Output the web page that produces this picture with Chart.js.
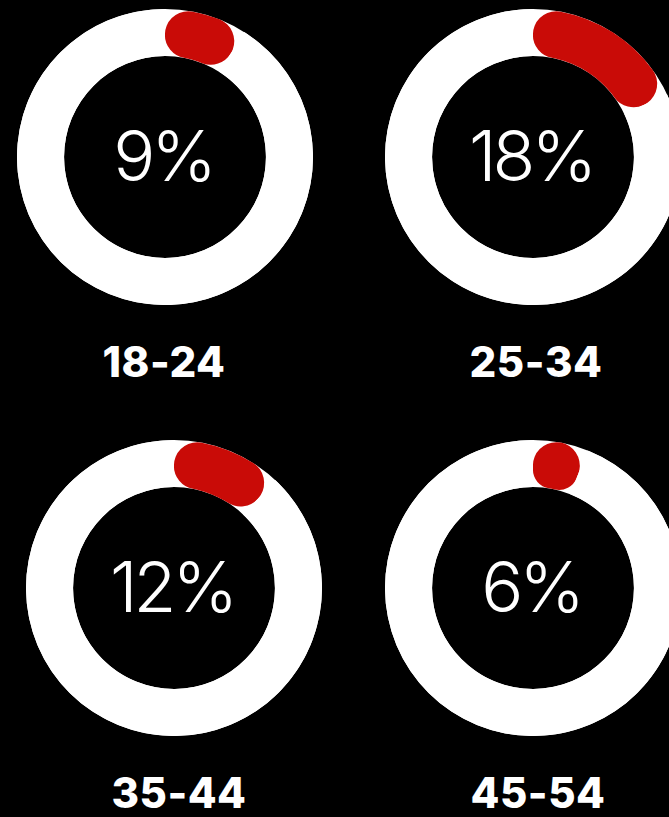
<!DOCTYPE html>
<html>
<head>
<meta charset="utf-8">
<script src="https://cdn.jsdelivr.net/npm/chart.js@4"></script>
<style>
    html, body { margin: 0; padding: 0; background: #000; }
    #page { position: relative; width: 669px; height: 817px; overflow: hidden; background: #000; }
    .cell { position: absolute; width: 296px; height: 296px; }
    .label {
        position: absolute; width: 240px; text-align: center;
        color: #fff; font-family: "Inter", "Open Sans", sans-serif; font-weight: 800;
        font-size: 42px; line-height: 42px; letter-spacing: 0.5px;
    }
</style>
</head>
<body>
<div id="page">
    <div class="cell" style="left:17px;top:9px"><canvas id="donut0" width="296" height="296"></canvas></div>
    <div class="cell" style="left:385px;top:9px"><canvas id="donut1" width="296" height="296"></canvas></div>
    <div class="cell" style="left:26px;top:440px"><canvas id="donut2" width="296" height="296"></canvas></div>
    <div class="cell" style="left:385px;top:440px"><canvas id="donut3" width="296" height="296"></canvas></div>

    <div class="label" id="label0" style="left:44px;top:341px"></div>
    <div class="label" id="label1" style="left:416px;top:341px"></div>
    <div class="label" id="label2" style="left:59px;top:772px"></div>
    <div class="label" id="label3" style="left:418px;top:772px"></div>
</div>

<script>
// age groups and the share of each one
const ageGroups = ['18-24', '25-34', '35-44', '45-54'];
const shares = [9, 18, 12, 6];

const red = '#c90b07';
const white = '#ffffff';

/*
    draws the full white ring under the arcs so the rounded ends of the red part sit on white
    and writes the percent in the middle
*/
const ringPlugin = {
    id: 'ring',
    beforeDatasetsDraw(chart) {
        let arc = chart.getDatasetMeta(0).data[0];
        if (!arc) return;
        let ctx = chart.ctx;
        ctx.save();
        ctx.beginPath();
        ctx.arc(arc.x, arc.y, arc.outerRadius, 0, Math.PI * 2);
        ctx.arc(arc.x, arc.y, arc.innerRadius, 0, Math.PI * 2, true);
        ctx.fillStyle = white;
        ctx.fill('evenodd');
        ctx.restore();
    },
    afterDraw(chart) {
        let arc = chart.getDatasetMeta(0).data[0];
        if (!arc) return;
        let ctx = chart.ctx;
        ctx.save();
        ctx.fillStyle = white;
        ctx.font = '300 70px "Inter", "Lato", sans-serif';
        ctx.letterSpacing = '-4px';
        ctx.textAlign = 'center';
        ctx.textBaseline = 'middle';
        ctx.fillText(chart.data.datasets[0].data[0] + '%', arc.x - 2, arc.y + 3);
        ctx.restore();
    }
};

function BuildDonut(i) {
    let canvas = document.getElementById('donut' + i);
    document.getElementById('label' + i).textContent = ageGroups[i];
    new Chart(canvas, {
        type: 'doughnut',
        data: {
            labels: [ageGroups[i], 'rest'],
            datasets: [{
                data: [shares[i], 100 - shares[i]],
                backgroundColor: [red, white],
                borderWidth: 0,
                // only the red part gets the round ends
                borderRadius: c => c.dataIndex === 0 ? 40 : 0
            }]
        },
        options: {
            responsive: false,
            animation: false,
            cutout: '68.2%',
            layout: { padding: 0 },
            plugins: {
                legend: { display: false },
                tooltip: { enabled: false }
            }
        },
        plugins: [ringPlugin]
    });
}

for (let i = 0; i < shares.length; i++) {
    BuildDonut(i);
}
</script>
</body>
</html>
